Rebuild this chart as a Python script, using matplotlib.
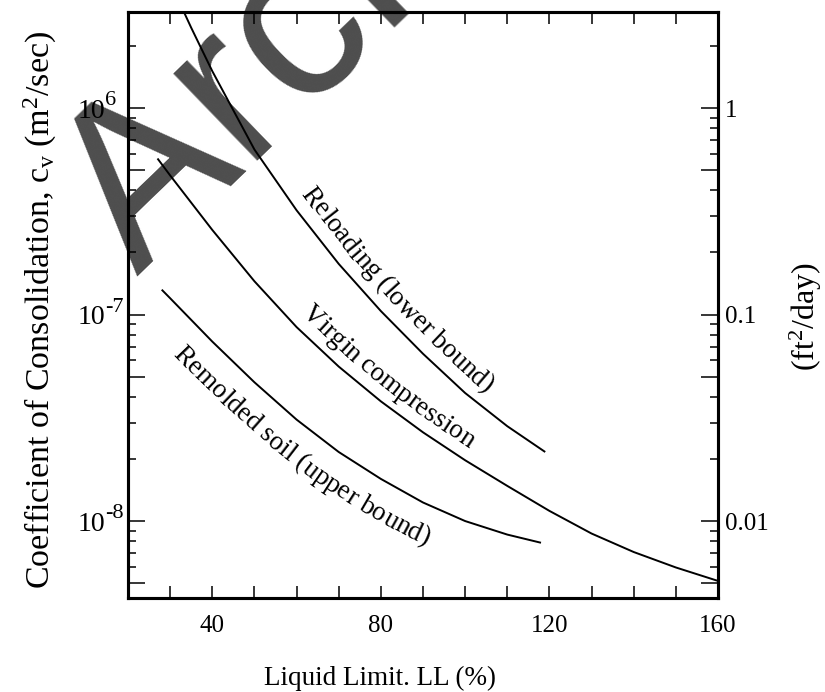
import numpy as np
import matplotlib
matplotlib.use('Agg')
import matplotlib.pyplot as plt
from matplotlib.ticker import FixedLocator, FixedFormatter, FuncFormatter
from matplotlib.font_manager import FontProperties, findfont, get_font

plt.rcParams['font.family'] = 'Liberation Serif'
plt.rcParams['mathtext.fontset'] = 'custom'
plt.rcParams['mathtext.rm'] = 'Liberation Serif'
plt.rcParams['mathtext.it'] = 'Liberation Serif:italic'

# Curves: liquid limit (%) vs c_v (m^2/sec)
ll_reload = [33, 35, 40, 50, 60, 70, 80, 90, 100, 110, 119]
cv_reload = [3.0e-6, 2.45e-6, 1.51e-6, 6.3e-7, 3.2e-7, 1.76e-7, 1.04e-7,
             6.46e-8, 4.17e-8, 2.88e-8, 2.16e-8]
ll_virgin = [27, 30, 40, 50, 60, 70, 80, 90, 100, 110, 120, 130, 140, 150, 160]
cv_virgin = [5.7e-7, 4.72e-7, 2.57e-7, 1.45e-7, 8.7e-8, 5.6e-8, 3.8e-8,
             2.69e-8, 1.97e-8, 1.48e-8, 1.12e-8, 8.7e-9, 7.08e-9, 5.96e-9, 5.13e-9]
ll_remold = [28, 30, 40, 50, 60, 70, 80, 90, 100, 110, 118]
cv_remold = [1.32e-7, 1.2e-7, 7.4e-8, 4.7e-8, 3.1e-8, 2.16e-8, 1.6e-8,
             1.23e-8, 1.0e-8, 8.6e-9, 7.85e-9]

curve_labels = ['Reloading (lower bound)', 'Virgin compression',
                'Remolded soil (upper bound)']

# axis ticks
x_ticks = list(range(20, 161, 10))
y_major = [5e-9, 1e-8, 5e-8, 1e-7, 5e-7, 1e-6]
y_minor = [k * 10.0**e for e in (-9, -8, -7, -6) for k in (2, 3, 4, 6, 7, 8, 9)]
decades = [1e-8, 1e-7, 1e-6]
left_exps = ['-8', '-7', '6']
right_labels = ['', '0.01', '', '0.1', '', '1']

W, H = 825, 692
fig = plt.figure(figsize=(W / 100, H / 100), dpi=100)
ax = fig.add_axes([128 / W, 1 - 598 / H, 590 / W, 586 / H])
ax.set_facecolor('none')
ax.set_yscale('log')
ax.set_xlim(20, 160)
ax.set_ylim(4.24e-9, 2.92e-6)

for xs, ys in [(ll_reload, cv_reload), (ll_virgin, cv_virgin), (ll_remold, cv_remold)]:
    ax.plot(xs, ys, color='black', lw=1.4, solid_capstyle='butt')

ax.xaxis.set_major_locator(FixedLocator(x_ticks))
ax.xaxis.set_major_formatter(FuncFormatter(lambda v, p: '%d' % v if v % 40 == 0 else ''))
ax.tick_params(axis='x', direction='in', length=8.5, width=1.1, top=True,
               labelsize=18, pad=12)

ax2 = ax.twinx()
ax2.set_yscale('log')
ax2.set_ylim(ax.get_ylim())
left_labels = ['10' if v in decades else '' for v in y_major]
for a, labels, pad in [(ax, left_labels, 16.5), (ax2, right_labels, 5)]:
    a.yaxis.set_major_locator(FixedLocator(y_major))
    a.yaxis.set_major_formatter(FixedFormatter(labels))
    a.yaxis.set_minor_locator(FixedLocator(y_minor))
    a.tick_params(axis='y', which='major', direction='in', length=12.5, width=1.1,
                  labelsize=18, pad=pad)
    a.tick_params(axis='y', which='minor', direction='in', length=6, width=1.1)
    for sp in a.spines.values():
        sp.set_linewidth(2.2)
ax.tick_params(axis='y', which='major', labelsize=20)

# full-size raised exponents, as in the original
for v, e in zip(decades, left_exps):
    px, py = ax.transData.transform((20, v))
    fig.text((px - 23) / W, (py + 3) / H, e, ha='left', va='baseline', size=16)


def label_along(xs, ys, text, start_x, offset, size):
    # write text one character at a time along a path offset px from the curve
    pts = ax.transData.transform(np.column_stack([xs, ys]))
    arc = np.concatenate([[0], np.cumsum(np.hypot(*np.diff(pts, axis=0).T))])

    def at(path, a, d):
        return np.column_stack([np.interp(d, a, path[:, 0]), np.interp(d, a, path[:, 1])])

    ss = np.arange(0, arc[-1], 1.0)
    t = at(pts, arc, ss + 10) - at(pts, arc, ss - 10)
    t = t / np.hypot(t[:, 0], t[:, 1])[:, None]
    path = at(pts, arc, ss) + offset * np.column_stack([-t[:, 1], t[:, 0]])
    parc = np.concatenate([[0], np.cumsum(np.hypot(*np.diff(path, axis=0).T))])
    s = np.interp(np.interp(start_x, xs, arc), ss, parc)

    font = get_font(findfont(FontProperties(family='Liberation Serif')))
    font.set_size(size, 100)
    inv = ax.transData.inverted()
    for ch in text:
        adv = font.load_char(ord(ch)).linearHoriAdvance / 65536
        c = s + adv / 2
        d = at(path, parc, [c + 10])[0] - at(path, parc, [c - 10])[0]
        p = inv.transform(at(path, parc, [c])[0])
        if ch != ' ':
            ax.text(p[0], p[1], ch, size=size, rotation=np.degrees(np.arctan2(d[1], d[0])),
                    rotation_mode='anchor', ha='center', va='baseline')
        s += adv


label_along(ll_reload, cv_reload, curve_labels[0], 58.5, 13, 19.5)
label_along(ll_virgin, cv_virgin, curve_labels[1], 59, 12, 19.5)
label_along(ll_remold, cv_remold, curve_labels[2], 37, -38, 19.5)

fig.text(40 / W, 1 - 310 / H,
         r'Coefficient of Consolidation, c$_\mathregular{v}$ (m$^\mathregular{2}$/sec)',
         rotation=90, ha='center', va='center', size=24.5)
fig.text(806 / W, 1 - 317 / H, r'(ft$^\mathregular{2}$/day)',
         rotation=90, ha='center', va='center', size=23)
fig.text(380 / W, 1 - 678 / H, 'Liquid Limit. LL (%)',
         ha='center', va='center', size=19.5)

# watermark behind everything
fig.text(137 / W, 1 - 277 / H, 'Archive', family='Liberation Sans', size=165, rotation=44,
         rotation_mode='anchor', ha='left', va='baseline', color='#4d4d4d', zorder=-1)

fig.savefig('out.png', dpi=100)
